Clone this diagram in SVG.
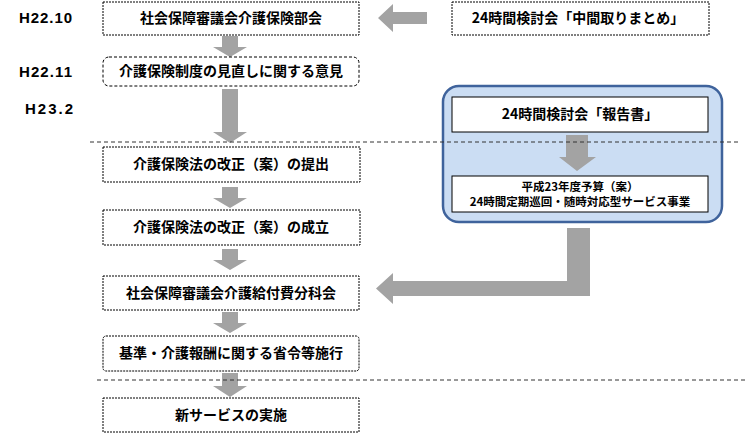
<svg xmlns="http://www.w3.org/2000/svg" width="749" height="433" viewBox="0 0 749 433">
<style>
.bg{fill:#ffffff}
.box{fill:#ffffff;stroke:#000000;stroke-width:1;stroke-dasharray:2,1}
.boxd{fill:#ffffff;stroke:#000000;stroke-width:1;stroke-dasharray:3,2}
.inner{fill:#ffffff;stroke:#000000;stroke-width:1}
.panel{fill:#cbddf3;stroke:#3f639c;stroke-width:2.5}
.arr{fill:#a3a3a3}
.t{font-family:"Noto Sans CJK JP","Noto Sans CJK SC",sans-serif;font-weight:bold;font-size:14px;fill:#000000;text-anchor:middle}
.ts{font-family:"Noto Sans CJK JP","Noto Sans CJK SC",sans-serif;font-weight:bold;font-size:11.5px;fill:#000000;text-anchor:middle}
.lbl{font-family:"Liberation Sans","Noto Sans",sans-serif;font-weight:bold;font-size:15px;fill:#000000}
.sep{fill:none;stroke:#333333;stroke-width:1;stroke-dasharray:4,3}
</style>
<rect class="bg" x="0" y="0" width="749" height="433"/>

<g id="labels">
<text class="lbl" x="19" y="23" textLength="53" lengthAdjust="spacing">H22.10</text>
<text class="lbl" x="19" y="77" textLength="53" lengthAdjust="spacing">H22.11</text>
<text class="lbl" x="25" y="114" textLength="48" lengthAdjust="spacing">H23.2</text>
</g>

<g id="panel">
<rect class="panel" x="443" y="86" width="279" height="136" rx="16" ry="16"/>
</g>

<g id="connectors">
<path class="arr" d="M222,36 H238 V47 H247 L230,57 L213,47 H222 Z"/>
<path class="arr" d="M222,89 H238 V132 H247 L230,143 L213,132 H222 Z"/>
<path class="arr" d="M222,187 H238 V198 H247 L230,208 L213,198 H222 Z"/>
<path class="arr" d="M222,249 H238 V260 H247 L230,270 L213,260 H222 Z"/>
<path class="arr" d="M222,312 H238 V323 H247 L230,333 L213,323 H222 Z"/>
<path class="arr" d="M222,373 H238 V386 H247 L230,397 L213,386 H222 Z"/>
<path class="arr" d="M427,12 V24 H393 V32 L378,18 L393,4 V12 Z"/>
<path class="arr" d="M566,135 H588 V157 H596 L577,171 L559,157 H566 Z"/>
<path class="arr" d="M567,228 H590 V296 H393 V304 L376,288.5 L393,273 V281 H567 Z"/>
</g>

<g id="separators">
<line class="sep" x1="90" y1="142" x2="741" y2="142"/>
<line class="sep" x1="97" y1="380" x2="745" y2="380"/>
</g>

<g id="n1"><rect class="box" x="103" y="2" width="256" height="33"/><text class="t" x="231" y="23">社会保障審議会介護保険部会</text></g>
<g id="n2"><rect class="boxd" x="103" y="57" width="256" height="29" rx="6" ry="6"/><text class="t" x="231" y="76">介護保険制度の見直しに関する意見</text></g>
<g id="n3"><rect class="box" x="103" y="147" width="257" height="35"/><text class="t" x="231" y="169">介護保険法の改正（案）の提出</text></g>
<g id="n4"><rect class="box" x="103" y="210" width="257" height="35"/><text class="t" x="231" y="232">介護保険法の改正（案）の成立</text></g>
<g id="n5"><rect class="box" x="103" y="276" width="256" height="34"/><text class="t" x="231" y="298">社会保障審議会介護給付費分科会</text></g>
<g id="n6"><rect class="box" x="103" y="336" width="256" height="35" rx="3" ry="3"/><text class="t" x="231" y="358">基準・介護報酬に関する省令等施行</text></g>
<g id="n7"><rect class="box" x="103" y="398" width="256" height="34"/><text class="t" x="231" y="420">新サービスの実施</text></g>
<g id="n8"><rect class="box" x="452" y="2" width="257" height="33"/><text class="t" x="578" y="23">24時間検討会「中間取りまとめ」</text></g>
<g id="n9"><rect class="inner" x="452" y="97" width="256" height="35"/><text class="t" x="580" y="119">24時間検討会「報告書」</text></g>
<g id="n10"><rect class="inner" x="452" y="176" width="256" height="36"/><text class="ts" x="580" y="191">平成23年度予算（案）</text><text class="ts" x="580" y="206">24時間定期巡回・随時対応型サービス事業</text></g>
</svg>
